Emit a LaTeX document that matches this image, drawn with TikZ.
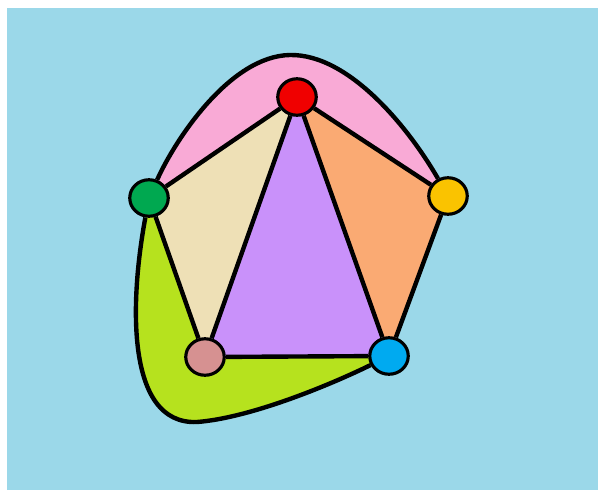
\documentclass[tikz,border=0pt]{standalone}
\usepackage{tikz}
\usetikzlibrary{shapes.geometric,backgrounds}

\definecolor{cielo}{RGB}{155,216,233}
\definecolor{rosa}{RGB}{249,170,214}
\definecolor{crema}{RGB}{238,224,182}
\definecolor{lila}{RGB}{201,145,250}
\definecolor{naranja}{RGB}{250,170,115}
\definecolor{lima}{RGB}{182,226,30}
\definecolor{cRojo}{RGB}{240,0,0}
\definecolor{cVerde}{RGB}{0,168,80}
\definecolor{cAmarillo}{RGB}{250,195,0}
\definecolor{cMalva}{RGB}{214,145,145}
\definecolor{cAzul}{RGB}{0,170,240}

\begin{document}
\begin{tikzpicture}[x=0.02cm,y=-0.02cm,line cap=round,line join=round,
  vertice/.style={ellipse,draw,line width=1.8pt,minimum width=0.77cm,
                  minimum height=0.73cm,inner sep=0pt},
  arista/.style={line width=2.5pt}]

  \useasboundingbox (0,0) rectangle (598,490);

  %-------------------------
  % Vertices
  %-------------------------
  \node[vertice,fill=cRojo]     (rojo)     at (297,97)  {};
  \node[vertice,fill=cVerde]    (verde)    at (149,198) {};
  \node[vertice,fill=cAmarillo] (amarillo) at (448,196) {};
  \node[vertice,fill=cMalva]    (malva)    at (205,357) {};
  \node[vertice,fill=cAzul]     (azul)     at (389,356) {};

  % puntos de paso de las curvas
  \coordinate (cima)  at (290,55);
  \coordinate (fondo) at (197,422);

  \begin{scope}[on background layer]
    % fondo azul
    \fill[cielo] (7,8) rectangle (598,490);

    %-------------------------
    % Caras
    %-------------------------
    \fill[rosa] (verde.center) .. controls (175,140) and (230,56) .. (cima)
                .. controls (350,54) and (410,130) .. (amarillo.center)
                -- (rojo.center) -- cycle;
    \fill[crema]   (verde.center) -- (rojo.center) -- (malva.center) -- cycle;
    \fill[lila]    (rojo.center) -- (malva.center) -- (azul.center) -- cycle;
    \fill[naranja] (rojo.center) -- (amarillo.center) -- (azul.center) -- cycle;
    \fill[lima] (verde.center) .. controls (130,300) and (125,425) .. (fondo)
                .. controls (250,418) and (330,385) .. (azul.center)
                -- (malva.center) -- cycle;

    %-------------------------
    % Aristas
    %-------------------------
    \draw[arista] (verde) -- (rojo);
    \draw[arista] (rojo) -- (amarillo);
    \draw[arista] (verde) -- (malva);
    \draw[arista] (rojo) -- (malva);
    \draw[arista] (rojo) -- (azul);
    \draw[arista] (amarillo) -- (azul);
    \draw[arista] (malva) -- (azul);

    % arista curva de arriba
    \draw[arista] (verde) .. controls (175,140) and (230,56) .. (cima)
                  .. controls (350,54) and (410,130) .. (amarillo);
    % arista curva de abajo
    \draw[arista] (verde) .. controls (130,300) and (125,425) .. (fondo)
                  .. controls (250,418) and (330,385) .. (azul);
  \end{scope}

\end{tikzpicture}
\end{document}
